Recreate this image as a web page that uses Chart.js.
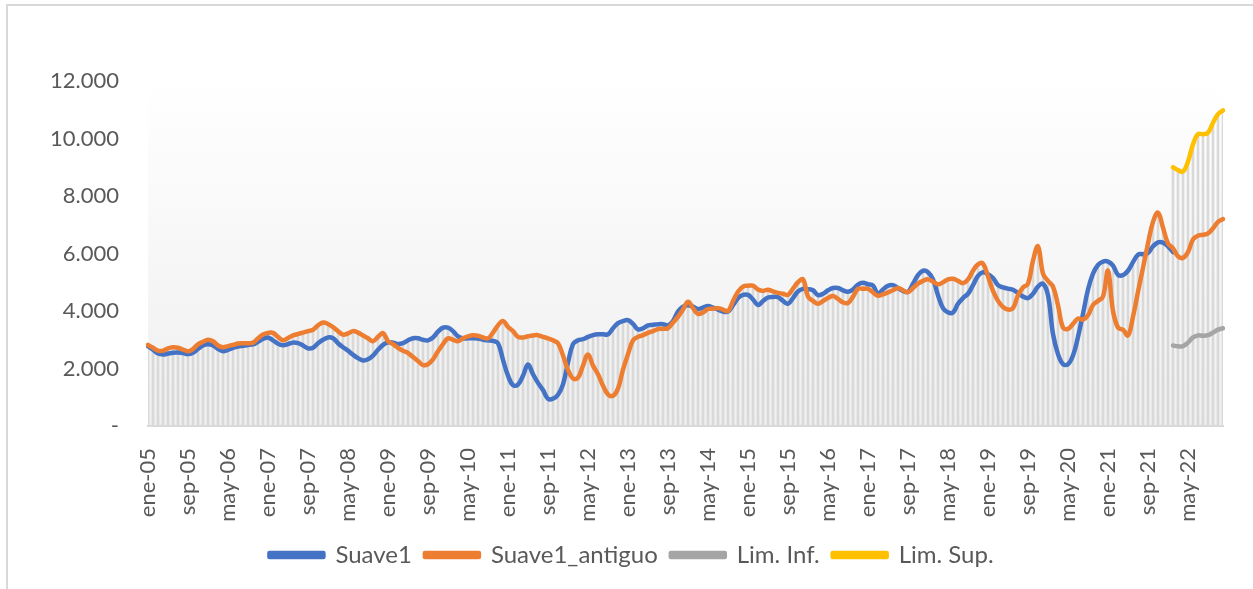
<!DOCTYPE html>
<html lang="es">
<head>
<meta charset="UTF-8">
<title>Suave1</title>
<script src="https://cdn.jsdelivr.net/npm/chart.js@4.4.1/dist/chart.umd.min.js"></script>
<style>
  html, body { margin: 0; padding: 0; background: #fff; overflow: hidden; }
  #marco { position: absolute; left: 6px; top: 4px; width: 1300px; height: 700px; border: 2px solid #d9d9d9; }
  #caja { position: absolute; left: 0; top: 0; width: 1253px; height: 589px; }
</style>
</head>
<body>
<div id="marco"></div>
<div id="caja"><canvas id="grafico"></canvas></div>
<script>
// meses ene-05 .. dic-22
const meses = ['ene','feb','mar','abr','may','jun','jul','ago','sep','oct','nov','dic'];
const anios = ['05','06','07','08','09','10','11','12','13','14','15','16','17','18','19','20','21','22'];

const suave1 = [
  2780,2650,2520,2490,2520,2550,2560,2540,2500,2550,2680,2800,
  2840,2800,2680,2600,2650,2720,2760,2790,2820,2840,2930,3030,
  3080,2980,2860,2810,2850,2900,2880,2800,2700,2720,2880,3000,
  3080,3050,2880,2740,2620,2480,2360,2280,2320,2450,2650,2820,
  2910,2900,2850,2880,2980,3050,3050,3000,2980,3080,3280,3420,
  3420,3300,3120,3050,3050,3050,3040,3000,2980,2960,2880,2300,
  1750,1420,1440,1750,2140,1800,1500,1250,950,950,1090,1450,
  2200,2850,2980,3020,3100,3160,3190,3190,3190,3400,3580,3650,
  3680,3550,3360,3400,3500,3520,3540,3540,3500,3650,3980,4150,
  4200,4150,4070,4120,4170,4120,4050,3980,3980,4200,4450,4560,
  4560,4400,4210,4350,4470,4490,4480,4350,4250,4450,4680,4770,
  4760,4720,4550,4600,4720,4800,4800,4720,4670,4750,4920,4980,
  4930,4880,4600,4750,4880,4900,4800,4700,4670,4950,5250,5400,
  5350,5100,4550,4100,3950,3950,4250,4450,4600,4900,5220,5350,
  5280,5150,4900,4820,4780,4740,4620,4500,4450,4600,4850,4950,
  4550,3200,2500,2150,2150,2450,3100,3900,4750,5300,5600,5720,
  5720,5580,5260,5250,5400,5700,5960,5980,6020,6250,6390,6380,
  6250,6050,null,null,null,null,null,null,null,null,null,null
];

const suave1Antiguo = [
  2820,2720,2620,2620,2700,2740,2720,2660,2600,2680,2840,2930,
  3000,2950,2800,2740,2780,2820,2870,2880,2880,2900,3050,3180,
  3240,3240,3100,2980,3060,3150,3200,3250,3300,3350,3500,3600,
  3550,3440,3300,3180,3220,3300,3250,3150,3050,2950,3100,3230,
  2950,2850,2720,2620,2540,2400,2260,2120,2150,2320,2600,2850,
  3050,3000,2950,3050,3120,3160,3140,3080,3050,3250,3500,3650,
  3450,3300,3100,3080,3120,3150,3160,3100,3050,2980,2880,2450,
  1950,1650,1680,2100,2490,2100,1800,1400,1100,1050,1300,1960,
  2500,2980,3100,3160,3240,3300,3370,3380,3400,3600,3800,4050,
  4320,4100,3900,3950,4070,4080,4100,4050,4000,4350,4670,4850,
  4880,4880,4750,4700,4740,4680,4630,4600,4560,4780,5000,5100,
  4500,4350,4250,4350,4450,4520,4420,4300,4280,4500,4770,4770,
  4770,4650,4530,4580,4650,4720,4800,4720,4650,4800,4950,5050,
  5100,5020,4930,5000,5100,5120,5050,4970,5100,5400,5620,5650,
  5200,4700,4350,4140,4050,4100,4550,4820,4950,5750,6250,5300,
  5050,4850,4200,3420,3380,3550,3740,3700,3850,4210,4350,4500,
  5400,4000,3420,3350,3150,3800,4670,5500,6350,7100,7420,6900,
  6350,6180,5900,5850,6050,6490,6620,6650,6700,6880,7100,7200
];

const limInf = [
  ...Array(205).fill(null),
  2800,2770,2780,2900,3080,3150,3140,3160,3250,3350,3400
];
const limSup = [
  ...Array(205).fill(null),
  9000,8900,8850,9200,9800,10150,10150,10200,10550,10850,10980
];

const etiquetas = [];
anios.forEach(a => meses.forEach(m => etiquetas.push(m + '-' + a)));

// lineas de caida: desde el eje hasta el punto mas alto de cada mes
const caida = etiquetas.map((_, i) =>
  Math.max(suave1[i] || 0, suave1Antiguo[i] || 0, limInf[i] || 0, limSup[i] || 0));

const gris = '#595959';
Chart.defaults.font.family = 'Lato, "Liberation Sans", sans-serif';
Chart.defaults.color = gris;

const fondo = {
  id: 'fondo',
  beforeDraw(chart) {
    const { ctx, chartArea: a } = chart;
    const g = ctx.createLinearGradient(0, a.top, 0, a.bottom);
    g.addColorStop(0, '#ffffff');
    g.addColorStop(1, '#efefef');
    ctx.save();
    ctx.fillStyle = g;
    ctx.fillRect(a.left, a.top, a.right - a.left, a.bottom - a.top);
    ctx.restore();
  }
};

function linea(label, data, color, order) {
  return {
    type: 'line', label, data, order,
    borderColor: color, backgroundColor: color,
    borderWidth: 4.5, pointRadius: 0, tension: 0.4,
    borderCapStyle: 'round', borderJoinStyle: 'round'
  };
}

new Chart(document.getElementById('grafico'), {
  type: 'bar',
  data: {
    labels: etiquetas,
    datasets: [
      linea('Suave1', suave1, '#4472C4', 4),
      linea('Suave1_antiguo', suave1Antiguo, '#ED7D31', 3),
      linea('Lim. Inf.', limInf, '#A5A5A5', 2),
      linea('Lim. Sup.', limSup, '#FFC000', 1),
      {
        type: 'bar', label: 'caida', data: caida, order: 10,
        backgroundColor: '#d9d9d9', barThickness: 2
      }
    ]
  },
  options: {
    responsive: true,
    maintainAspectRatio: false,
    animation: false,
    layout: { padding: { top: 81, left: 40, right: 30, bottom: 12 } },
    plugins: {
      tooltip: { enabled: false },
      legend: {
        position: 'bottom',
        labels: {
          boxWidth: 54, boxHeight: 4, padding: 13,
          font: { size: 24 }, color: gris,
          filter: it => it.text !== 'caida',
          sort: (a, b) => a.datasetIndex - b.datasetIndex
        }
      }
    },
    scales: {
      x: {
        offset: false,
        grid: { display: false, offset: false },
        border: { display: true, color: '#d9d9d9', width: 2 },
        ticks: {
          autoSkip: false, maxRotation: 90, minRotation: 90, padding: 14,
          font: { size: 22 }, color: gris,
          callback: (v, i) => (i % 8 === 0 ? etiquetas[i] : '')
        },
        afterFit: s => { s.height = 104; s.paddingLeft = 0; s.paddingRight = 0; }
      },
      y: {
        min: 0, max: 12000,
        grid: { display: false, drawTicks: false },
        border: { display: false },
        ticks: {
          stepSize: 2000, padding: 29,
          font: { size: 22 }, color: gris,
          callback: v => (v === 0 ? '-' : v.toLocaleString('de-DE'))
        },
        afterFit: s => { s.width = 108; }
      }
    }
  },
  plugins: [fondo]
});
</script>
</body>
</html>
